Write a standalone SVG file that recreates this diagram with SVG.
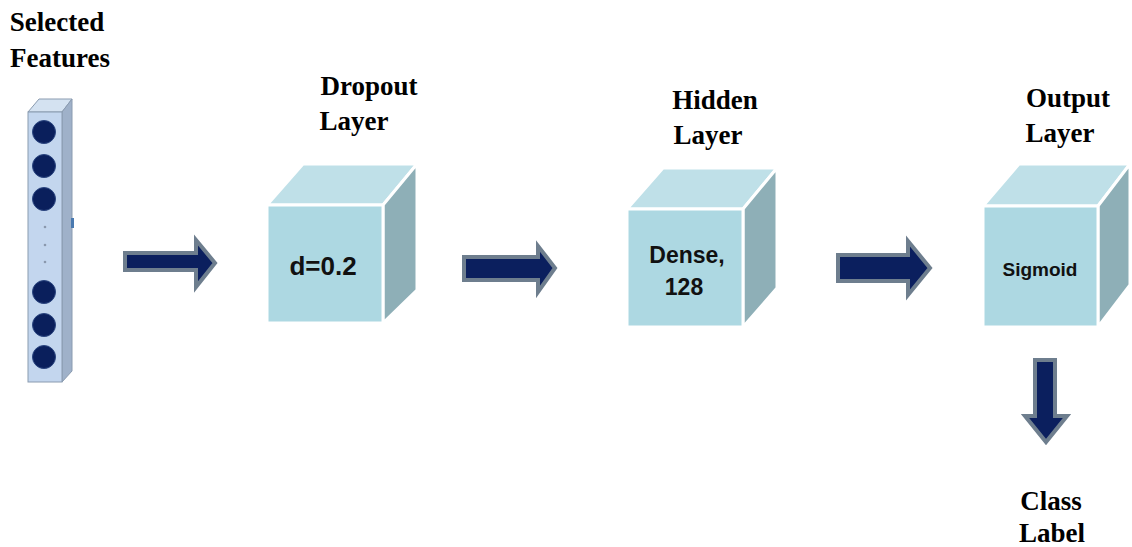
<svg xmlns="http://www.w3.org/2000/svg" width="1132" height="547" viewBox="0 0 1132 547">
<style>
.lbl{font-family:"Liberation Serif","Times New Roman",serif;font-weight:bold;font-size:27px;fill:#000;text-anchor:middle}
.in{font-family:"Liberation Sans",Arial,sans-serif;font-weight:bold;fill:#111;text-anchor:middle}
.front{fill:#add8e2;stroke:#fff;stroke-width:3}
.top{fill:#bfe0e8;stroke:#fff;stroke-width:3;stroke-linejoin:round}
.side{fill:#8eafb7;stroke:#fff;stroke-width:3;stroke-linejoin:round}
.arrow{fill:#0b1f5e;stroke:#6e7e8e;stroke-width:4;stroke-linejoin:miter}
.neuron{fill:#0a1f5c;stroke:#2a4580;stroke-width:1}
.dot{fill:#8a98ad}
</style>
<rect width="1132" height="547" fill="#fff"/>

<g id="input">
  <polygon points="28,112 39,99 72,99 62,112" fill="#d4e2f1" stroke="#8a9bb0" stroke-width="1"/>
  <polygon points="62,112 72,99 72,371 62,382" fill="#9fb1c9" stroke="#8a9bb0" stroke-width="1"/>
  <rect x="28" y="112" width="34" height="270" fill="#c3d6ee" stroke="#8a9bb0" stroke-width="1"/>
  <rect x="71" y="218" width="3" height="10" fill="#4a7ab0"/>
  <circle class="neuron" cx="44" cy="132" r="11.5"/>
  <circle class="neuron" cx="44" cy="166" r="11.5"/>
  <circle class="neuron" cx="44" cy="199" r="11.5"/>
  <circle class="dot" cx="45" cy="227" r="1.3"/>
  <circle class="dot" cx="45" cy="245" r="1.3"/>
  <circle class="dot" cx="45" cy="262" r="1.3"/>
  <circle class="neuron" cx="44" cy="292" r="11.5"/>
  <circle class="neuron" cx="44" cy="325" r="11.5"/>
  <circle class="neuron" cx="44" cy="357" r="11.5"/>
  <text class="lbl" x="57" y="31">Selected</text>
  <text class="lbl" x="60" y="67">Features</text>
</g>

<g id="dropout">
  <polygon class="top" points="267,205 303,164 417,164 383,205"/>
  <polygon class="side" points="383,205 417,164 417,290 383,323"/>
  <rect class="front" x="267" y="205" width="116" height="118"/>
  <text class="in" x="323" y="275" font-size="26">d=0.2</text>
  <text class="lbl" x="369" y="95">Dropout</text>
  <text class="lbl" x="354" y="130">Layer</text>
</g>

<g id="hidden">
  <polygon class="top" points="627,209 663,168 777,168 743,209"/>
  <polygon class="side" points="743,209 777,168 777,288 743,327"/>
  <rect class="front" x="627" y="209" width="116" height="118"/>
  <text class="in" x="687" y="263" font-size="23">Dense,</text>
  <text class="in" x="684" y="295" font-size="23">128</text>
  <text class="lbl" x="715" y="109">Hidden</text>
  <text class="lbl" x="708" y="144">Layer</text>
</g>

<g id="output">
  <polygon class="top" points="983,206 1019,164 1130,164 1098,206"/>
  <polygon class="side" points="1098,206 1130,164 1130,285 1098,327"/>
  <rect class="front" x="983" y="206" width="115" height="121"/>
  <text class="in" x="1040" y="276" font-size="19">Sigmoid</text>
  <text class="lbl" x="1068" y="107">Output</text>
  <text class="lbl" x="1060" y="142">Layer</text>
</g>

<g id="classlabel">
  <text class="lbl" x="1051" y="510">Class</text>
  <text class="lbl" x="1052" y="542">Label</text>
</g>

<g id="connectors">
  <polygon class="arrow" points="125,253 196,253 196,240 215,263 196,287 196,270 125,270"/>
  <polygon class="arrow" points="464,257 538,257 538,246 555,268 538,292 538,280 464,280"/>
  <polygon class="arrow" points="838,255 908,255 908,241 930,268 908,295 908,281 838,281"/>
  <polygon class="arrow" points="1035,360 1055,360 1055,416 1067,416 1046,442 1025,416 1035,416"/>
</g>
</svg>
